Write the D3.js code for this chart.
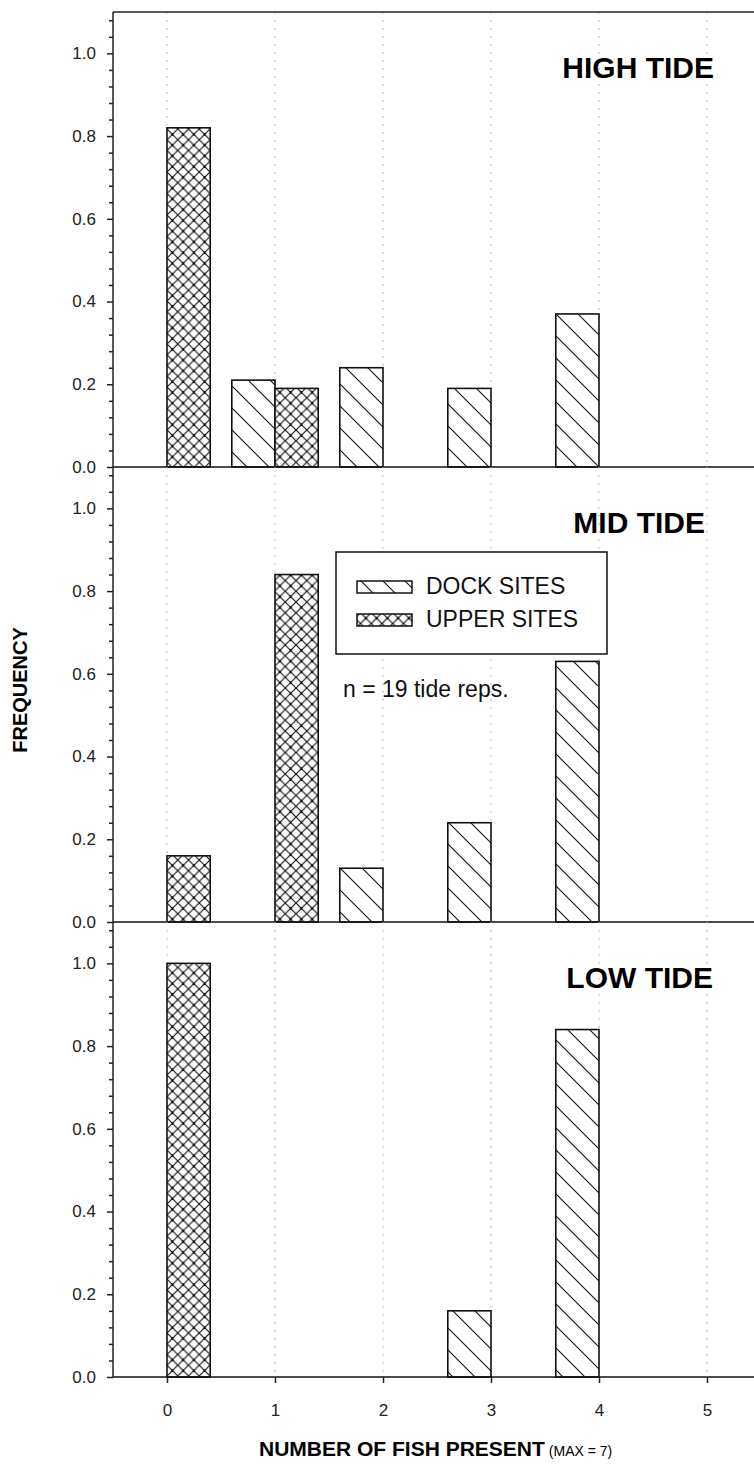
<!DOCTYPE html>
<html>
<head>
<meta charset="utf-8">
<script src="https://cdn.jsdelivr.net/npm/d3@7"></script>
<style>
  html, body { margin: 0; padding: 0; background: #fff; }
  svg { display: block; font-family: "Liberation Sans", Arial, sans-serif; }
</style>
</head>
<body>
<svg id="chart" width="754" height="1464"></svg>
<script>
// Number of fish present (x categories)
const categories = [0, 1, 2, 3, 4, 5];

// Frequency per tide stage
const highDock  = [0, 0.21, 0.24, 0.19, 0.37, 0];
const highUpper = [0.82, 0.19, 0, 0, 0, 0];
const midDock   = [0, 0, 0.13, 0.24, 0.63, 0];
const midUpper  = [0.16, 0.84, 0, 0, 0, 0];
const lowDock   = [0, 0, 0, 0.16, 0.84, 0];
const lowUpper  = [1.0, 0, 0, 0, 0, 0];

const panelTitles = ["HIGH TIDE", "MID TIDE", "LOW TIDE"];
const yTickValues = [0, 0.2, 0.4, 0.6, 0.8, 1.0];
const seriesNames = ["DOCK SITES", "UPPER SITES"];

const panels = [
  { title: panelTitles[0], dock: highDock, upper: highUpper },
  { title: panelTitles[1], dock: midDock,  upper: midUpper  },
  { title: panelTitles[2], dock: lowDock,  upper: lowUpper  }
];

const svg = d3.select("#chart");
const left = 113, right = 754;
const panelTop = 12, panelH = 455;
const barW = 0.4;

const x = d3.scaleLinear().domain([-0.5, 5.5]).range([left, left + 6 * 108]);

// hatch patterns
const defs = svg.append("defs");
const ds = 22;
const dock = defs.append("pattern").attr("id", "dockHatch")
  .attr("patternUnits", "userSpaceOnUse").attr("width", ds).attr("height", ds);
dock.append("rect").attr("width", ds).attr("height", ds).attr("fill", "#fff");
dock.append("path")
  .attr("d", `M0,0L${ds},${ds}M-3,${ds-3}L3,${ds+3}M${ds-3},-3L${ds+3},3`)
  .attr("stroke", "#111").attr("stroke-width", 1.1);

const cs = 10.75;
const cross = defs.append("pattern").attr("id", "crossHatch")
  .attr("patternUnits", "userSpaceOnUse").attr("width", cs).attr("height", cs)
  .attr("x", x(0));
cross.append("rect").attr("width", cs).attr("height", cs).attr("fill", "#fff");
cross.append("path")
  .attr("d", `M0,0L${cs},${cs}M${cs},0L0,${cs}M-2,${cs-2}L2,${cs+2}M${cs-2},-2L${cs+2},2M-2,2L2,-2M${cs-2},${cs+2}L${cs+2},${cs-2}`)
  .attr("stroke", "#111").attr("stroke-width", 1.15);
cross.append("circle").attr("cx", cs / 2).attr("cy", cs / 2).attr("r", 1.1).attr("fill", "#000");

const minorTicks = d3.range(1, 28).map(i => +(i * 0.04).toFixed(2)).filter(v => Math.abs(v * 5 - Math.round(v * 5)) > 1e-6);

panels.forEach((p, i) => {
  const top = panelTop + i * panelH;
  const base = top + panelH;
  const y = d3.scaleLinear().domain([0, 1.1]).range([base, top]);
  const g = svg.append("g");

  // dotted gridlines at each category
  g.selectAll("line.grid").data(categories).join("line")
    .attr("x1", d => x(d)).attr("x2", d => x(d))
    .attr("y1", top).attr("y2", base)
    .attr("stroke", "#b0b0b0").attr("stroke-width", 1.2)
    .attr("stroke-dasharray", "1.5,6.5");

  // dock bars, left of each category
  g.selectAll("rect.dock").data(categories.filter((c, k) => p.dock[k] > 0)).join("rect")
    .attr("x", d => x(d - barW)).attr("width", d => x(d) - x(d - barW))
    .attr("y", d => y(p.dock[d])).attr("height", d => base - y(p.dock[d]))
    .attr("fill", "url(#dockHatch)").attr("stroke", "#111").attr("stroke-width", 1.6);

  // upper bars, right of each category
  g.selectAll("rect.upper").data(categories.filter((c, k) => p.upper[k] > 0)).join("rect")
    .attr("x", d => x(d)).attr("width", d => x(d + barW) - x(d))
    .attr("y", d => y(p.upper[d])).attr("height", d => base - y(p.upper[d]))
    .attr("fill", "url(#crossHatch)").attr("stroke", "#111").attr("stroke-width", 1.6);

  // y axis, major and minor ticks
  const ax = g.append("g").attr("transform", `translate(${left},0)`)
    .call(d3.axisLeft(y).tickValues(yTickValues).tickSize(6).tickPadding(11).tickFormat(d3.format(".1f")));
  ax.select(".domain").remove();
  ax.selectAll("line").attr("stroke", "#222").attr("stroke-width", 1.5);
  ax.selectAll("text").attr("font-size", 17).attr("fill", "#222")
    .attr("font-family", "'Liberation Sans', Arial, sans-serif");

  const mx = g.append("g").attr("transform", `translate(${left},0)`)
    .call(d3.axisLeft(y).tickValues(minorTicks).tickSize(4).tickFormat(""));
  mx.select(".domain").remove();
  mx.selectAll("line").attr("stroke", "#222").attr("stroke-width", 1.5);

  // panel baseline
  g.append("line").attr("x1", left).attr("x2", right).attr("y1", base).attr("y2", base)
    .attr("stroke", "#111").attr("stroke-width", 1.5);

  // panel title
  const titleRight = [714, 705, 713][i];
  g.append("text").attr("x", titleRight).attr("y", top + 66)
    .attr("text-anchor", "end").attr("font-size", 30).attr("font-weight", "bold")
    .attr("fill", "#000").text(p.title);
});

// top frame line and left axis line
svg.append("line").attr("x1", left).attr("x2", right).attr("y1", panelTop).attr("y2", panelTop)
  .attr("stroke", "#222").attr("stroke-width", 1.5);
svg.append("line").attr("x1", left).attr("x2", left)
  .attr("y1", panelTop).attr("y2", panelTop + 3 * panelH)
  .attr("stroke", "#222").attr("stroke-width", 1.5);

// bottom x axis
const bottom = panelTop + 3 * panelH;
const xa = svg.append("g").attr("transform", `translate(0,${bottom})`)
  .call(d3.axisBottom(x).tickValues(categories).tickSize(6).tickPadding(21).tickFormat(d3.format("d")));
xa.select(".domain").remove();
xa.selectAll("line").attr("stroke", "#222").attr("stroke-width", 1.5);
xa.selectAll("text").attr("font-size", 17).attr("fill", "#222")
  .attr("font-family", "'Liberation Sans', Arial, sans-serif");

// axis titles
const xt = svg.append("text").attr("x", 259).attr("y", 1456).attr("fill", "#000");
xt.append("tspan").attr("font-size", 21).attr("font-weight", "bold").text("NUMBER OF FISH PRESENT");
xt.append("tspan").attr("font-size", 14).attr("dx", 4).text("(MAX = 7)");

svg.append("text").attr("transform", "translate(27,690) rotate(-90)")
  .attr("text-anchor", "middle").attr("font-size", 20).attr("font-weight", "bold")
  .attr("fill", "#000").text("FREQUENCY");

// legend
const lg = svg.append("g");
lg.append("rect").attr("x", 336).attr("y", 552).attr("width", 271).attr("height", 102)
  .attr("fill", "#fff").attr("stroke", "#111").attr("stroke-width", 1.5);
const swatches = [["url(#dockHatch)", 581], ["url(#crossHatch)", 614]];
swatches.forEach(([fill, sy], k) => {
  lg.append("rect").attr("x", 357).attr("y", sy).attr("width", 55).attr("height", 12)
    .attr("fill", fill).attr("stroke", "#111").attr("stroke-width", 1.5);
  lg.append("text").attr("x", 426).attr("y", sy + 13).attr("font-size", 23)
    .attr("fill", "#111").text(seriesNames[k]);
});

svg.append("text").attr("x", 343).attr("y", 697).attr("font-size", 23)
  .attr("fill", "#111").text("n = 19 tide reps.");
</script>
</body>
</html>
